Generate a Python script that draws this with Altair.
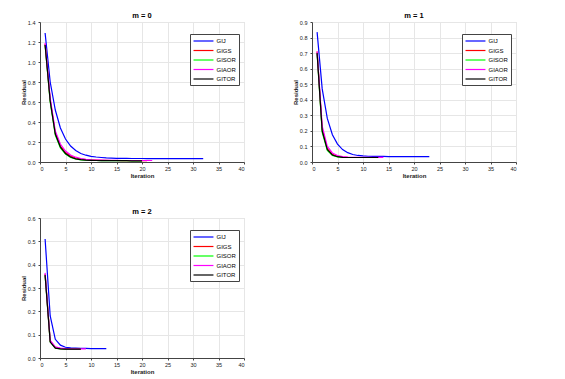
import altair as alt
import pandas as pd

methods = ["GIJ", "GIGS", "GISOR", "GIAOR", "GITOR"]
colors = ["#0000ff", "#ff0000", "#00ff00", "#ff00ff", "#000000"]

# m = 0
m0_GIJ = [1.29, 0.80, 0.52, 0.34, 0.23, 0.16, 0.115, 0.085, 0.068, 0.057, 0.050, 0.045,
          0.041, 0.039, 0.037, 0.036, 0.036, 0.035, 0.035, 0.035, 0.034, 0.034, 0.034,
          0.034, 0.034, 0.033, 0.033, 0.033, 0.033, 0.033, 0.033, 0.033]
m0_GIGS = [1.18, 0.62, 0.29, 0.16, 0.095, 0.06, 0.04, 0.03, 0.024, 0.02, 0.018, 0.017,
           0.016, 0.015, 0.015, 0.014, 0.014, 0.014, 0.013, 0.013, 0.013]
m0_GISOR = [1.17, 0.60, 0.27, 0.14, 0.08, 0.045, 0.03, 0.022, 0.018, 0.016, 0.015, 0.014,
            0.014, 0.013, 0.013, 0.013, 0.013, 0.012, 0.012, 0.012]
m0_GIAOR = [1.19, 0.64, 0.31, 0.18, 0.11, 0.07, 0.048, 0.035, 0.027, 0.022, 0.02, 0.018,
            0.017, 0.016, 0.016, 0.015, 0.015, 0.015, 0.015, 0.015, 0.015, 0.015]
m0_GITOR = [1.17, 0.61, 0.28, 0.15, 0.085, 0.05, 0.032, 0.024, 0.019, 0.017, 0.015, 0.014,
            0.014, 0.013, 0.013, 0.013, 0.013, 0.012, 0.012, 0.012]

# m = 1
m1_GIJ = [0.835, 0.47, 0.28, 0.175, 0.115, 0.08, 0.06, 0.048, 0.042, 0.039, 0.037, 0.036,
          0.036, 0.036, 0.035, 0.035, 0.035, 0.035, 0.035, 0.035, 0.035, 0.035, 0.035]
m1_GIGS = [0.71, 0.21, 0.085, 0.05, 0.037, 0.032, 0.030, 0.029, 0.029, 0.029, 0.029,
           0.029, 0.029]
m1_GISOR = [0.70, 0.19, 0.075, 0.042, 0.033, 0.030, 0.029, 0.029, 0.029, 0.029, 0.029,
            0.029, 0.029]
m1_GIAOR = [0.71, 0.23, 0.10, 0.058, 0.042, 0.035, 0.032, 0.030, 0.030, 0.030, 0.030,
            0.030, 0.030, 0.030]
m1_GITOR = [0.70, 0.20, 0.08, 0.045, 0.034, 0.030, 0.029, 0.029, 0.029, 0.029, 0.029,
            0.029, 0.029]

# m = 2
m2_GIJ = [0.51, 0.18, 0.08, 0.055, 0.046, 0.043, 0.042, 0.041, 0.041, 0.040, 0.040,
          0.040, 0.040]
m2_GIGS = [0.36, 0.072, 0.045, 0.040, 0.039, 0.039, 0.038, 0.038]
m2_GISOR = [0.355, 0.070, 0.043, 0.039, 0.038, 0.038, 0.038, 0.038]
m2_GIAOR = [0.365, 0.075, 0.048, 0.042, 0.040, 0.039, 0.039, 0.039, 0.039]
m2_GITOR = [0.355, 0.068, 0.042, 0.039, 0.038, 0.038, 0.038, 0.038]

panels = [
    ("m = 0", [m0_GIJ, m0_GIGS, m0_GISOR, m0_GIAOR, m0_GITOR], 1.4, 0.2),
    ("m = 1", [m1_GIJ, m1_GIGS, m1_GISOR, m1_GIAOR, m1_GITOR], 0.9, 0.1),
    ("m = 2", [m2_GIJ, m2_GIGS, m2_GISOR, m2_GIAOR, m2_GITOR], 0.6, 0.1),
]

FONT = "Liberation Sans"


def make_panel(title, series, ymax, ystep):
    rows = []
    for k, (name, vals) in enumerate(zip(methods, series)):
        for i, v in enumerate(vals):
            rows.append({"Iteration": i + 1, "Residual": v, "Method": name, "order": k})
    df = pd.DataFrame(rows)
    nt = int(round(ymax / ystep))
    yticks = [round(i * ystep, 2) for i in range(nt + 1)]
    return alt.Chart(df).mark_line(strokeWidth=1.2).encode(
        x=alt.X("Iteration:Q", scale=alt.Scale(domain=[0, 40], nice=False),
                axis=alt.Axis(values=list(range(0, 41, 5)), title="Iteration")),
        y=alt.Y("Residual:Q", scale=alt.Scale(domain=[0, ymax], nice=False),
                axis=alt.Axis(values=yticks, title="Residual")),
        color=alt.Color("Method:N", scale=alt.Scale(domain=methods, range=colors),
                        legend=alt.Legend(orient="none", legendX=150, legendY=12,
                                          title=None, symbolType="M-1,0H4.7",
                                          symbolSize=49, symbolStrokeWidth=1.2,
                                          labelFontSize=6, labelFont=FONT,
                                          labelColor="#000",
                                          rowPadding=1.5, padding=2.5,
                                          strokeColor="#444444", fillColor="white",
                                          labelOffset=15)),
        order=alt.Order("order:Q"),
        detail="Method:N",
    ).properties(
        width=204, height=140,
        title=alt.TitleParams(title, fontSize=7.5, font=FONT, fontWeight="bold",
                              offset=1, color="#000"),
    )


p0 = make_panel(*panels[0])
p1 = make_panel(*panels[1])
p2 = make_panel(*panels[2])

chart = alt.vconcat(
    alt.hconcat(p0, p1, spacing=46).resolve_legend(color="independent"),
    p2, spacing=28,
).resolve_legend(color="independent").properties(
    padding={"left": 11, "top": 3, "right": 5, "bottom": 0}
).configure(
    background="white"
).configure_axis(
    labelFont=FONT, titleFont=FONT, labelFontSize=5.5, titleFontSize=6,
    titleFontWeight="bold", labelColor="#222", titleColor="#222",
    gridColor="#e6e6e6", domainColor="#444", tickColor="#444", tickSize=2,
    labelPadding=2, titlePadding=1,
).configure_axisY(labelPadding=3).configure_view(stroke="#d8d8d8")

chart.save("out.html", embed_options={"renderer": "svg", "actions": False})
